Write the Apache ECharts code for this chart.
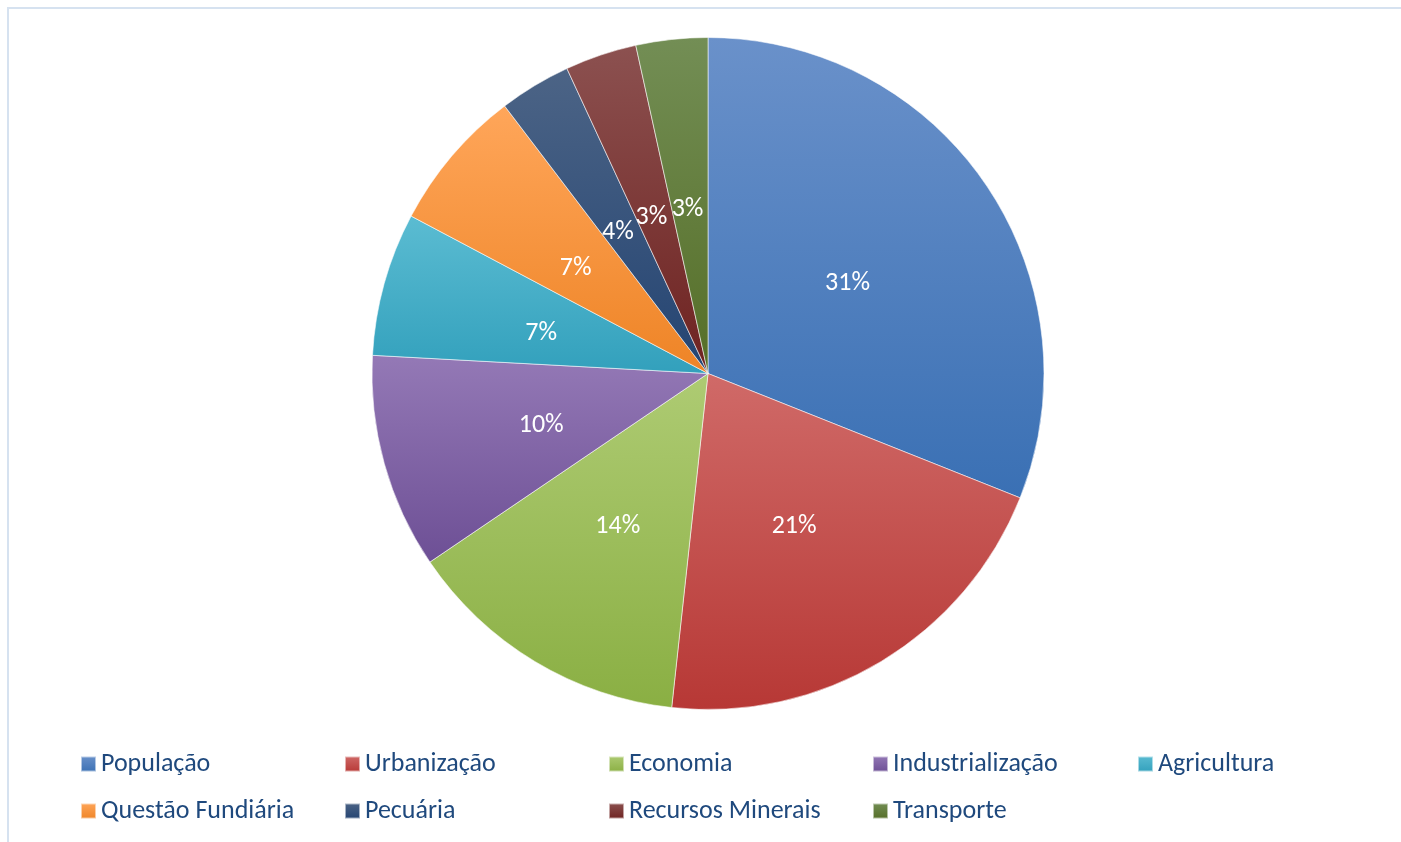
<!DOCTYPE html>
<html>
<head>
<meta charset="utf-8">
<style>
  html, body { margin: 0; padding: 0; background: #fff; }
  #chart { width: 1401px; height: 842px; }
</style>
<script src="https://cdn.jsdelivr.net/npm/echarts@6/dist/echarts.min.js"></script>
</head>
<body>
<div id="chart"></div>
<script>
// Temas e número de ocorrências
const categories = ['População', 'Urbanização', 'Economia', 'Industrialização', 'Agricultura',
                    'Questão Fundiária', 'Pecuária', 'Recursos Minerais', 'Transporte'];
const counts = [9, 6, 4, 3, 2, 2, 1, 1, 1];

// Gradiente de cada fatia: [cor superior, cor inferior]
const sliceColors = [
  ['#6A91CA', '#3A70B4'],
  ['#D06A68', '#B73835'],
  ['#AECB73', '#8AAF43'],
  ['#9479B6', '#6D4F95'],
  ['#5BBCD2', '#32A0BC'],
  ['#FFA65A', '#EE8426'],
  ['#4C6486', '#244472'],
  ['#8C5150', '#6E2220'],
  ['#738E55', '#556E27']
];

const FONT = 'Carlito, Calibri, Lato, sans-serif';
const chart = echarts.init(document.getElementById('chart'), null, { renderer: 'canvas' });

const grad = (c) => new echarts.graphic.LinearGradient(0, 0, 0, 1, [
  { offset: 0, color: c[0] },
  { offset: 1, color: c[1] }
]);

// Legenda: duas linhas de cinco colunas
const legendCols = [80, 344, 608, 872, 1137];
const legendRows = [751, 798];
const legends = categories.map((name, i) => ({
  data: [{ name: name, itemStyle: { color: grad(sliceColors[i]) } }],
  left: legendCols[i % 5],
  top: legendRows[Math.floor(i / 5)],
  padding: 0,
  itemWidth: 15,
  itemHeight: 15,
  itemGap: 0,
  itemTextGap: 6,
  icon: 'rect',
  selectedMode: false,
  textStyle: { fontFamily: FONT, fontSize: 26, color: '#1F497D' }
}));

chart.setOption({
  backgroundColor: '#ffffff',
  animation: false,
  graphic: [{
    type: 'rect',
    shape: { x: 8, y: 8, width: 1500, height: 1000 },
    style: { fill: 'none', stroke: '#D6E2F0', lineWidth: 2 },
    silent: true,
    z: -1
  }],
  legend: legends,
  series: [{
    type: 'pie',
    center: [708, 373.5],
    radius: 336,
    startAngle: 90,
    clockwise: true,
    percentPrecision: 0,
    avoidLabelOverlap: false,
    label: {
      show: true,
      position: 'inside',
      formatter: '{d}%',
      color: '#ffffff',
      fontFamily: FONT,
      fontSize: 26,
      offset: [-2, 6]
    },
    labelLine: { show: false },
    emphasis: { disabled: true },
    itemStyle: { borderColor: 'rgba(255,255,255,0.55)', borderWidth: 1 },
    data: categories.map((name, i) => ({
      name: name,
      value: counts[i],
      itemStyle: { color: grad(sliceColors[i]) }
    }))
  }]
});
</script>
</body>
</html>
